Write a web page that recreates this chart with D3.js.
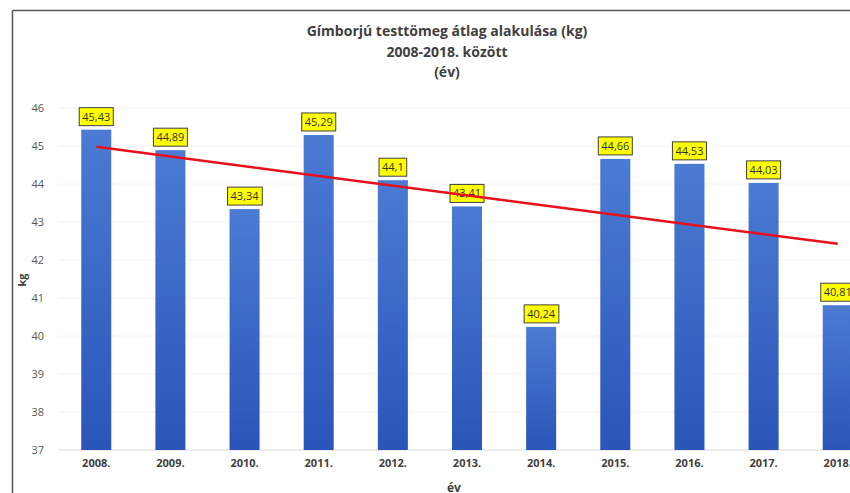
<!DOCTYPE html>
<html>
<head>
<meta charset="utf-8">
<script src="https://cdn.jsdelivr.net/npm/d3@7"></script>
<style>
  body { margin: 0; background: #fff; }
  svg { display: block; font-family: "Open Sans", "DejaVu Sans", sans-serif; }
</style>
</head>
<body>
<div id="chart"></div>
<script>
  var years = ['2008.', '2009.', '2010.', '2011.', '2012.', '2013.', '2014.', '2015.', '2016.', '2017.', '2018.']
  var weights = [45.43, 44.89, 43.34, 45.29, 44.1, 43.41, 40.24, 44.66, 44.53, 44.03, 40.81]
  var yTicks = [37, 38, 39, 40, 41, 42, 43, 44, 45, 46]
  var titleLines = ['Gímborjú testtömeg átlag alakulása (kg)', '2008-2018. között', '(év)']

  var W = 850, H = 493
  var svg = d3.select('#chart').append('svg').attr('width', W).attr('height', H)

  // plot runs past the right edge, like the cropped original
  var x = d3.scaleBand().domain(years).range([59, 875]).paddingInner(0.595).paddingOuter(0.3)
  var y = d3.scaleLinear().domain([37, 46]).range([450, 108])

  var grad = svg.append('defs').append('linearGradient')
    .attr('id', 'barGrad').attr('x1', 0).attr('y1', 0).attr('x2', 0).attr('y2', 1)
  grad.append('stop').attr('offset', '0%').attr('stop-color', '#4b7bd3')
  grad.append('stop').attr('offset', '100%').attr('stop-color', '#2a55b9')

  // frame
  svg.append('line').attr('x1', 12.5).attr('y1', 10.5).attr('x2', W).attr('y2', 10.5)
    .attr('stroke', '#555').attr('stroke-width', 1.5)
  svg.append('line').attr('x1', 12.5).attr('y1', 10.5).attr('x2', 12.5).attr('y2', H)
    .attr('stroke', '#555').attr('stroke-width', 1.5)

  // gridlines
  svg.append('g').selectAll('line').data(yTicks).enter().append('line')
    .attr('x1', 59).attr('x2', W)
    .attr('y1', function(d) { return y(d) }).attr('y2', function(d) { return y(d) })
    .attr('stroke', function(d) { return d === 37 ? '#d9d9d9' : '#f2f2f2' })

  // y axis labels
  var yAxis = svg.append('g').attr('transform', 'translate(44,0)')
    .call(d3.axisLeft(y).tickValues(yTicks).tickSize(0).tickPadding(0))
  yAxis.select('.domain').remove()
  yAxis.selectAll('text').attr('fill', '#595959').style('font-size', '11px')
    .style('font-family', '"Open Sans", sans-serif')

  // x axis labels
  var xAxis = svg.append('g').attr('transform', 'translate(0,' + 459 + ')')
    .call(d3.axisBottom(x).tickSize(0).tickPadding(0))
  xAxis.select('.domain').remove()
  xAxis.selectAll('text').attr('fill', '#404040').style('font-size', '11px')
    .style('font-weight', 'bold').style('font-family', '"Open Sans", sans-serif')

  // bars
  svg.append('g').selectAll('rect').data(weights).enter().append('rect')
    .attr('x', function(d, i) { return x(years[i]) })
    .attr('width', x.bandwidth())
    .attr('y', function(d) { return y(d) })
    .attr('height', function(d) { return y(37) - y(d) })
    .attr('fill', 'url(#barGrad)')

  var n = weights.length
  var cx = function(i) { return x(years[i]) + x.bandwidth() / 2 }

  // value labels
  var lab = svg.append('g').selectAll('g').data(weights).enter().append('g')
    .attr('transform', function(d, i) { return 'translate(' + cx(i) + ',' + (y(d) - 13) + ')' })
  lab.append('text')
    .attr('text-anchor', 'middle').attr('dy', '0.35em')
    .style('font-size', '11px').attr('fill', '#333')
    .text(function(d) { return String(d).replace('.', ',') })
  lab.each(function() {
    var g = d3.select(this), bb = g.select('text').node().getBBox()
    g.insert('rect', 'text')
      .attr('x', bb.x - 3).attr('y', -9).attr('width', bb.width + 6).attr('height', 18)
      .attr('fill', '#ffff00').attr('stroke', '#404040').attr('stroke-width', 1)
  })

  // linear trend line, drawn over the labels
  var mx = d3.mean(d3.range(n)), my = d3.mean(weights)
  var slope = d3.sum(weights, function(d, i) { return (i - mx) * (d - my) }) /
              d3.sum(d3.range(n), function(i) { return (i - mx) * (i - mx) })
  var trend = function(i) { return my + slope * (i - mx) }
  svg.append('line')
    .attr('x1', cx(0)).attr('y1', y(trend(0)))
    .attr('x2', cx(n - 1)).attr('y2', y(trend(n - 1)))
    .attr('stroke', '#e8101a').attr('stroke-width', 2.5)

  // title
  svg.append('g').selectAll('text').data(titleLines).enter().append('text')
    .attr('x', 447).attr('y', function(d, i) { return 36 + i * 20.5 })
    .attr('text-anchor', 'middle').attr('fill', '#404040')
    .style('font-size', '14px').style('font-weight', 'bold')
    .text(function(d) { return d })

  // axis titles
  svg.append('text').attr('transform', 'translate(26,280) rotate(-90)')
    .attr('text-anchor', 'middle').attr('fill', '#404040')
    .style('font-size', '11px').style('font-weight', 'bold').text('kg')
  svg.append('text').attr('x', 454).attr('y', 492)
    .attr('text-anchor', 'middle').attr('fill', '#404040')
    .style('font-size', '12px').style('font-weight', 'bold').text('év')
</script>
</body>
</html>
